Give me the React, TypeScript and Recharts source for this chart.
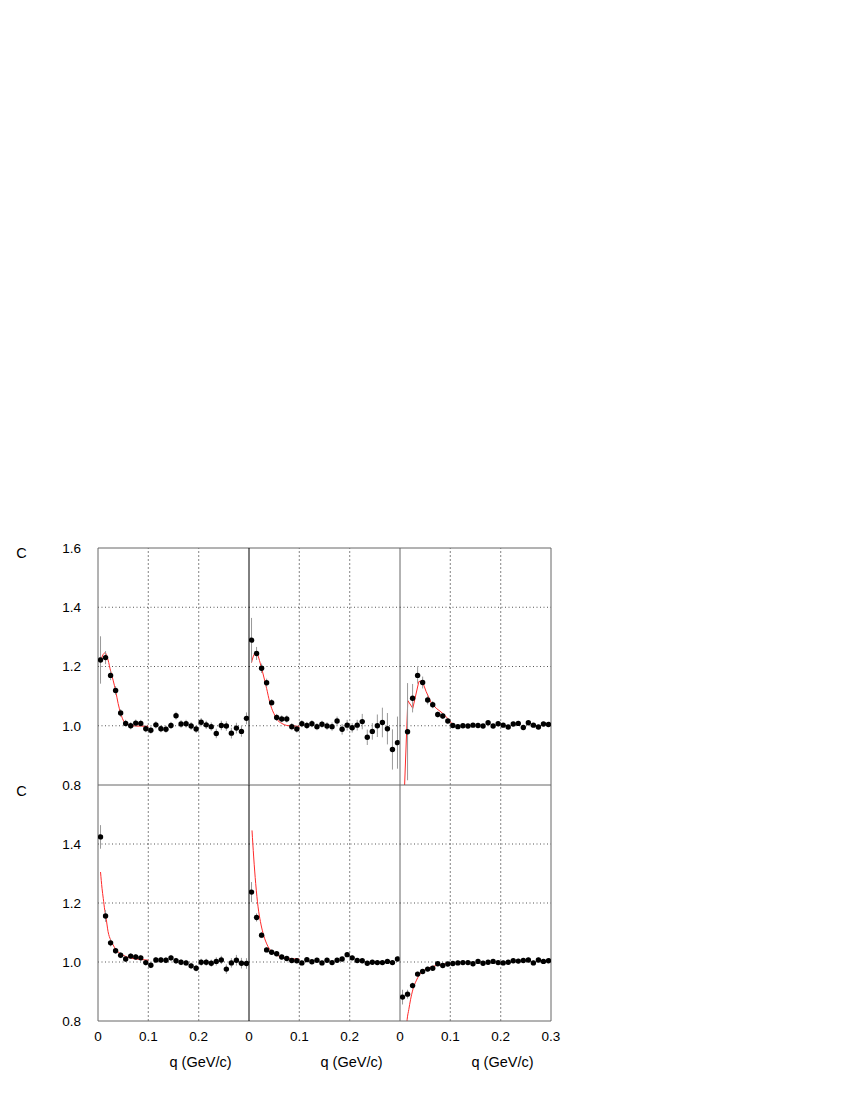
import React from 'react';
import { ComposedChart, Scatter, Line, XAxis, YAxis, ReferenceLine, ErrorBar } from 'recharts';

// bin centres (GeV/c)
const Q = [0.005, 0.015, 0.025, 0.035, 0.045, 0.055, 0.065, 0.075, 0.085, 0.095,
  0.105, 0.115, 0.125, 0.135, 0.145, 0.155, 0.165, 0.175, 0.185, 0.195,
  0.205, 0.215, 0.225, 0.235, 0.245, 0.255, 0.265, 0.275, 0.285, 0.295];

// panel 1 (top-left)
const C1 = [1.222, 1.230, 1.170, 1.119, 1.043, 1.008, 1.000, 1.009, 1.008, 0.990, 0.985, 1.003, 0.990, 0.988, 1.001, 1.034, 1.006, 1.007, 0.999, 0.989, 1.012, 1.003, 0.997, 0.974, 1.001, 0.999, 0.975, 0.992, 0.981, 1.025];
const E1 = [0.080, 0.022, 0.016, 0.015, 0.013, 0.012, 0.012, 0.012, 0.012, 0.012, 0.012, 0.012, 0.012, 0.012, 0.012, 0.013, 0.013, 0.013, 0.013, 0.013, 0.014, 0.014, 0.014, 0.016, 0.016, 0.016, 0.018, 0.018, 0.018, 0.020];
const F1Q = [0.005, 0.010, 0.014, 0.020, 0.025, 0.030, 0.035, 0.040, 0.045, 0.050, 0.055, 0.065, 0.075, 0.100];
const F1C = [1.215, 1.240, 1.246, 1.222, 1.185, 1.154, 1.118, 1.075, 1.042, 1.019, 1.008, 1.001, 0.999, 0.998];

// panel 2 (top-middle)
const C2 = [1.289, 1.244, 1.194, 1.145, 1.078, 1.028, 1.023, 1.023, 0.997, 0.989, 1.007, 1.001, 1.007, 0.997, 1.005, 0.999, 0.997, 1.016, 0.988, 1.002, 0.993, 1.002, 1.014, 0.961, 0.981, 1.000, 1.011, 0.990, 0.920, 0.943];
const E2 = [0.075, 0.022, 0.016, 0.014, 0.012, 0.012, 0.012, 0.012, 0.012, 0.012, 0.012, 0.012, 0.012, 0.012, 0.012, 0.013, 0.014, 0.015, 0.018, 0.018, 0.016, 0.018, 0.026, 0.026, 0.028, 0.038, 0.050, 0.053, 0.068, 0.088];
const F2Q = [0.005, 0.010, 0.014, 0.025, 0.031, 0.035, 0.041, 0.045, 0.051, 0.055, 0.065, 0.075, 0.087, 0.100];
const F2C = [1.213, 1.240, 1.246, 1.194, 1.154, 1.126, 1.081, 1.059, 1.036, 1.023, 1.008, 1.001, 0.999, 0.998];

// panel 3 (top-right); first bin off scale
const C3 = [null, 0.980, 1.093, 1.170, 1.146, 1.087, 1.071, 1.038, 1.033, 1.016, 1.001, 0.997, 1.000, 0.999, 1.002, 1.001, 0.999, 1.010, 0.999, 1.007, 1.002, 0.996, 1.006, 1.008, 0.994, 1.010, 1.002, 0.996, 1.006, 1.004];
const E3 = [0, 0.164, 0.048, 0.028, 0.020, 0.015, 0.012, 0.010, 0.010, 0.008, 0.007, 0.007, 0.007, 0.007, 0.007, 0.007, 0.007, 0.007, 0.007, 0.007, 0.007, 0.007, 0.007, 0.007, 0.007, 0.007, 0.007, 0.007, 0.007, 0.007];
const F3Q = [0.0085, 0.0155, 0.0254, 0.0374, 0.0440, 0.0520, 0.0616, 0.0719, 0.0848, 0.0947, 0.1046];
const F3C = [0.770, 1.085, 1.059, 1.149, 1.152, 1.115, 1.079, 1.059, 1.042, 1.025, 1.004];

// panel 4 (bottom-left)
const C4 = [1.424, 1.156, 1.065, 1.038, 1.023, 1.010, 1.020, 1.017, 1.014, 0.998, 0.989, 1.007, 1.007, 1.006, 1.014, 1.004, 0.999, 0.997, 0.987, 0.979, 0.999, 0.999, 0.996, 1.002, 1.007, 0.976, 0.997, 1.006, 0.996, 0.995];
const E4 = [0.040, 0.020, 0.012, 0.010, 0.010, 0.010, 0.010, 0.010, 0.010, 0.010, 0.010, 0.010, 0.010, 0.010, 0.010, 0.010, 0.010, 0.010, 0.011, 0.011, 0.012, 0.012, 0.012, 0.014, 0.014, 0.016, 0.016, 0.018, 0.018, 0.018];
const F4Q = [0.005, 0.008, 0.0105, 0.0135, 0.0155, 0.020, 0.025, 0.030, 0.035, 0.045, 0.055, 0.065, 0.083, 0.100];
const F4C = [1.305, 1.250, 1.215, 1.175, 1.156, 1.103, 1.075, 1.058, 1.043, 1.028, 1.019, 1.013, 1.009, 1.006];

// panel 5 (bottom-middle)
const C5 = [1.237, 1.151, 1.091, 1.041, 1.033, 1.028, 1.017, 1.012, 1.005, 1.004, 0.997, 1.008, 1.001, 1.006, 0.997, 1.006, 0.998, 1.006, 1.010, 1.025, 1.014, 1.005, 1.004, 0.996, 0.999, 0.998, 0.998, 1.002, 0.998, 1.010];
const E5 = [0.034, 0.014, 0.010, 0.008, 0.008, 0.008, 0.008, 0.008, 0.008, 0.008, 0.008, 0.008, 0.008, 0.008, 0.008, 0.008, 0.008, 0.008, 0.008, 0.008, 0.008, 0.008, 0.008, 0.008, 0.008, 0.008, 0.008, 0.008, 0.008, 0.008];
const F5Q = [0.006, 0.0093, 0.0133, 0.018, 0.0227, 0.028, 0.0346, 0.0412, 0.048, 0.058, 0.068, 0.081, 0.100];
const F5C = [1.446, 1.356, 1.266, 1.187, 1.137, 1.097, 1.064, 1.043, 1.032, 1.021, 1.015, 1.012, 1.010];

// panel 6 (bottom-right)
const C6 = [0.881, 0.891, 0.920, 0.959, 0.968, 0.976, 0.979, 0.994, 0.988, 0.993, 0.995, 0.997, 0.998, 0.998, 0.994, 1.002, 0.996, 0.999, 1.002, 0.998, 0.997, 0.999, 1.004, 1.003, 1.005, 1.007, 0.997, 1.007, 1.002, 1.004];
const E6 = [0.025, 0.015, 0.010, 0.008, 0.008, 0.008, 0.008, 0.008, 0.008, 0.008, 0.008, 0.008, 0.008, 0.008, 0.008, 0.008, 0.008, 0.008, 0.008, 0.008, 0.008, 0.008, 0.008, 0.008, 0.008, 0.008, 0.008, 0.008, 0.008, 0.008];
const F6Q = [0.012, 0.0142, 0.0175, 0.0209, 0.0255, 0.0321, 0.0387, 0.0454, 0.0553, 0.0652, 0.0785, 0.0917, 0.100];
const F6C = [0.760, 0.805, 0.839, 0.872, 0.906, 0.936, 0.957, 0.968, 0.979, 0.985, 0.990, 0.994, 0.996];

// axis ticks
const X_LABELS = [0, 0.1, 0.2];
const X_LABELS_LAST = [0, 0.1, 0.2, 0.3];
const X_MINOR = [0.05, 0.1, 0.15, 0.2, 0.25];
const Y_LABELS_TOP = [0.8, 1.0, 1.2, 1.4, 1.6];
const Y_LABELS_BOTTOM = [0.8, 1.0, 1.2, 1.4];
const Y_MINOR = [0.9, 1.0, 1.1, 1.2, 1.3, 1.4, 1.5];
const X_GRID = [0.1, 0.2];
const Y_GRID = [1.0, 1.2, 1.4];

const FONT = '"Liberation Sans", Arial, Helvetica, sans-serif';
const FRAME = '#666';
const PANEL_LEFT = [98, 249, 400];
const PANEL_TOP = [548, 785];
const PANEL_W = 151;
const PANEL_H = [237, 236];
const M = { top: 10, right: 20, bottom: 30, left: 0 };

type Pt = { q: number; c: number; e: number };

function points(c: (number | null)[], e: number[]): Pt[] {
  const out: Pt[] = [];
  Q.forEach((q, i) => {
    const v = c[i];
    if (v !== null && v !== undefined) out.push({ q, c: v, e: e[i] });
  });
  return out;
}
function fit(qs: number[], cs: number[]) {
  return qs.map((q, i) => ({ q, c: cs[i] }));
}

const PANELS = [
  { row: 0, col: 0, pts: points(C1, E1), fit: fit(F1Q, F1C), curve: 'monotone' },
  { row: 0, col: 1, pts: points(C2, E2), fit: fit(F2Q, F2C), curve: 'monotone' },
  { row: 0, col: 2, pts: points(C3, E3), fit: fit(F3Q, F3C), curve: 'linear' },
  { row: 1, col: 0, pts: points(C4, E4), fit: fit(F4Q, F4C), curve: 'monotone' },
  { row: 1, col: 1, pts: points(C5, E5), fit: fit(F5Q, F5C), curve: 'monotone' },
  { row: 1, col: 2, pts: points(C6, E6), fit: fit(F6Q, F6C), curve: 'monotone' },
];

const fmtX = (v: number) => (v === 0 ? '0' : v.toFixed(1));
const fmtY = (v: number) => v.toFixed(1);
const tickStyle = { fill: '#000', fontSize: 13.5, fontFamily: FONT };

const Dot = (p: any) => <circle cx={p.cx} cy={p.cy} r={2.7} fill="#000" />;

function Panel({ row, col, pts, fit: fitData, curve }: any) {
  const W = M.left + 60 + PANEL_W + M.right;
  const H = M.top + PANEL_H[row] + 30 + M.bottom;
  const left = PANEL_LEFT[col] - 8 - 60 - M.left;
  const top = PANEL_TOP[row] - 8 - M.top;
  const showX = row === 1;
  const showY = col === 0;
  const xTicks = col === 2 ? X_LABELS_LAST : X_LABELS;
  const yTicks = row === 0 ? Y_LABELS_TOP : Y_LABELS_BOTTOM;
  return (
    <div style={{ position: 'absolute', left, top }}>
      <ComposedChart width={W} height={H} margin={M}>
        <XAxis xAxisId="x" type="number" dataKey="q" domain={[0, 0.3]} allowDataOverflow
          ticks={xTicks} interval={0} tick={showX ? tickStyle : false} tickFormatter={fmtX}
          tickLine={false} tickSize={0} tickMargin={10} height={30}
          axisLine={row === 1 ? { stroke: FRAME } : false} />
        <XAxis xAxisId="xb" type="number" domain={[0, 0.3]} allowDataOverflow mirror orientation="bottom"
          ticks={X_MINOR} interval={0} tick={false} tickSize={4} tickLine={{ stroke: FRAME }} axisLine={false} />
        <XAxis xAxisId="xt" type="number" domain={[0, 0.3]} allowDataOverflow mirror orientation="top"
          ticks={X_MINOR} interval={0} tick={false} tickSize={4} tickLine={{ stroke: FRAME }} axisLine={{ stroke: FRAME }} />
        <YAxis yAxisId="y" type="number" dataKey="c" domain={[0.8, 1.6]} allowDataOverflow
          ticks={yTicks} interval={0} tick={showY ? tickStyle : false} tickFormatter={fmtY}
          tickLine={false} tickSize={0} tickMargin={17} width={60}
          axisLine={{ stroke: col === 1 ? '#000' : FRAME }} />
        <YAxis yAxisId="yl" type="number" domain={[0.8, 1.6]} allowDataOverflow mirror orientation="left"
          ticks={Y_MINOR} interval={0} tick={false} tickSize={4} tickLine={{ stroke: FRAME }} axisLine={false} />
        <YAxis yAxisId="yr" type="number" domain={[0.8, 1.6]} allowDataOverflow mirror orientation="right"
          ticks={Y_MINOR} interval={0} tick={false} tickSize={4} tickLine={{ stroke: FRAME }}
          axisLine={col === 2 ? { stroke: FRAME } : false} />
        {X_GRID.map((g) => (
          <ReferenceLine key={'gx' + g} xAxisId="x" yAxisId="y" x={g} stroke="#999" strokeWidth={1.2} strokeDasharray="2 2" />
        ))}
        {Y_GRID.map((g) => (
          <ReferenceLine key={'gy' + g} xAxisId="x" yAxisId="y" y={g} stroke="#555" strokeWidth={1} strokeDasharray="1 2.5" />
        ))}
        <Line data={fitData} xAxisId="x" yAxisId="y" dataKey="c" type={curve} stroke="#ff2a2a"
          strokeWidth={1} dot={false} activeDot={false} isAnimationActive={false} />
        <Scatter data={pts} xAxisId="x" yAxisId="y" dataKey="c" shape={Dot} isAnimationActive={false}>
          <ErrorBar dataKey="e" direction="y" width={0} stroke="#999" strokeWidth={1} isAnimationActive={false} />
        </Scatter>
      </ComposedChart>
    </div>
  );
}

const textStyle: React.CSSProperties = {
  position: 'absolute',
  fontFamily: FONT,
  fontSize: 14.5,
  color: '#000',
  lineHeight: 1,
  whiteSpace: 'nowrap',
  transform: 'translate(-50%, -50%)',
};

export default function App() {
  return (
    <div style={{ position: 'relative', width: 834, height: 1084 }}>
      {PANELS.map((p) => (
        <Panel key={p.row + '-' + p.col} {...p} />
      ))}
      <div style={{ ...textStyle, left: 21.5 - 8, top: 553 - 8 }}>C</div>
      <div style={{ ...textStyle, left: 21.5 - 8, top: 791 - 8 }}>C</div>
      {PANEL_LEFT.map((pl) => (
        <div key={'xl' + pl} style={{ ...textStyle, left: pl + 102.5 - 8, top: 1062 - 8 }}>q (GeV/c)</div>
      ))}
    </div>
  );
}
